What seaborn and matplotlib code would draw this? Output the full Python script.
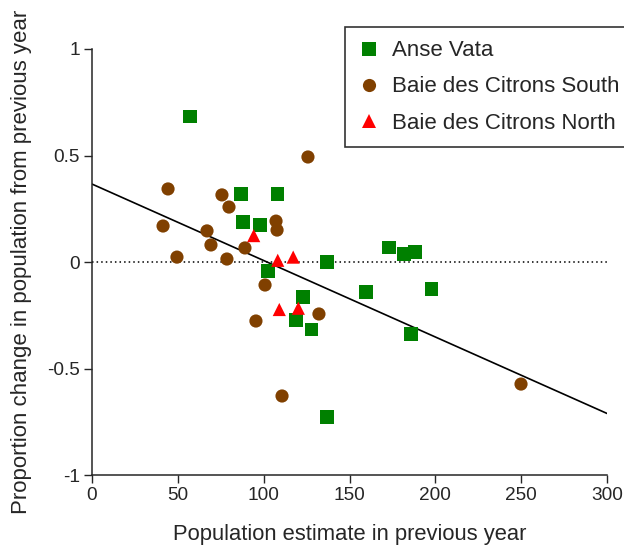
import seaborn as sns
import pandas as pd
import numpy as np
import matplotlib.pyplot as plt

# Data
anse_x = [57.1, 86.8, 108.3, 88.0, 97.9, 102.5, 136.9, 122.9, 118.8, 128.1,
          136.9, 159.6, 173.0, 181.7, 188.2, 185.8, 198.0]
anse_y = [0.685, 0.319, 0.319, 0.188, 0.174, -0.042, 0.0, -0.164, -0.272, -0.315,
          -0.728, -0.141, 0.070, 0.038, 0.047, -0.338, -0.127]

south_x = [44.3, 41.4, 49.5, 67.0, 69.3, 75.7, 79.8, 78.6, 89.1, 100.8,
           95.5, 107.2, 107.8, 125.8, 110.7, 132.2, 249.9]
south_y = [0.343, 0.169, 0.023, 0.146, 0.080, 0.315, 0.258, 0.014, 0.066, -0.108,
           -0.277, 0.192, 0.150, 0.493, -0.629, -0.244, -0.573]

north_x = [94.2, 108.2, 117.2, 109.1, 120.2]
north_y = [0.124, 0.008, 0.023, -0.223, -0.217]

sites = ["Anse Vata", "Baie des Citrons South", "Baie des Citrons North"]

# fitted line as printed in the figure
fit_intercept = 0.366
fit_slope = -0.00359

df = pd.DataFrame({
    "x": anse_x + south_x + north_x,
    "y": anse_y + south_y + north_y,
    "site": [sites[0]] * len(anse_x) + [sites[1]] * len(south_x) + [sites[2]] * len(north_x),
})

sns.set_style("ticks")
plt.rcParams["font.family"] = ["Liberation Sans", "DejaVu Sans"]

fig = plt.figure(figsize=(6.24, 5.45), dpi=100)
ax = fig.add_axes([0.1474, 0.1284, 0.8254, 0.7817])

# zero reference line
ax.axhline(0, color="black", linestyle=(0, (1, 2)), linewidth=1.1, zorder=1)

# regression line
ax.axline((0, fit_intercept), slope=fit_slope, color="black", linewidth=1.2, zorder=2)

sns.scatterplot(data=df, x="x", y="y", hue="site", style="site",
                hue_order=sites, style_order=sites,
                palette=["#008000", "#804000", "#ff0000"],
                markers=["s", "o", "^"], s=90, edgecolor="none",
                linewidth=0, ax=ax, zorder=3, clip_on=False)

ax.set_xlim(0, 300)
ax.set_ylim(-1, 1)
ax.set_xticks([0, 50, 100, 150, 200, 250, 300])
ax.set_yticks([-1, -0.5, 0, 0.5, 1])
ax.set_yticklabels(["-1", "-0.5", "0", "0.5", "1"])
ax.tick_params(labelsize=13.7, length=5.8, width=1, direction="out", pad=3)
sns.despine(ax=ax)
for s in ["left", "bottom"]:
    ax.spines[s].set_linewidth(1.1)

ax.set_xlabel("Population estimate in previous year", fontsize=15.8, labelpad=14)
ax.set_ylabel("Proportion change in population from previous year", fontsize=16, labelpad=11)

leg = ax.legend(loc="upper left", bbox_to_anchor=(345 / 624, 1 - 27 / 545),
                bbox_transform=fig.transFigure, borderaxespad=0, fontsize=16,
                frameon=True, fancybox=False, edgecolor="black",
                handlelength=1.0, handletextpad=0.52, borderpad=0.6,
                labelspacing=0.68, markerscale=1.0)
leg.get_frame().set_linewidth(1.2)

fig.savefig("out.png", dpi=100)
